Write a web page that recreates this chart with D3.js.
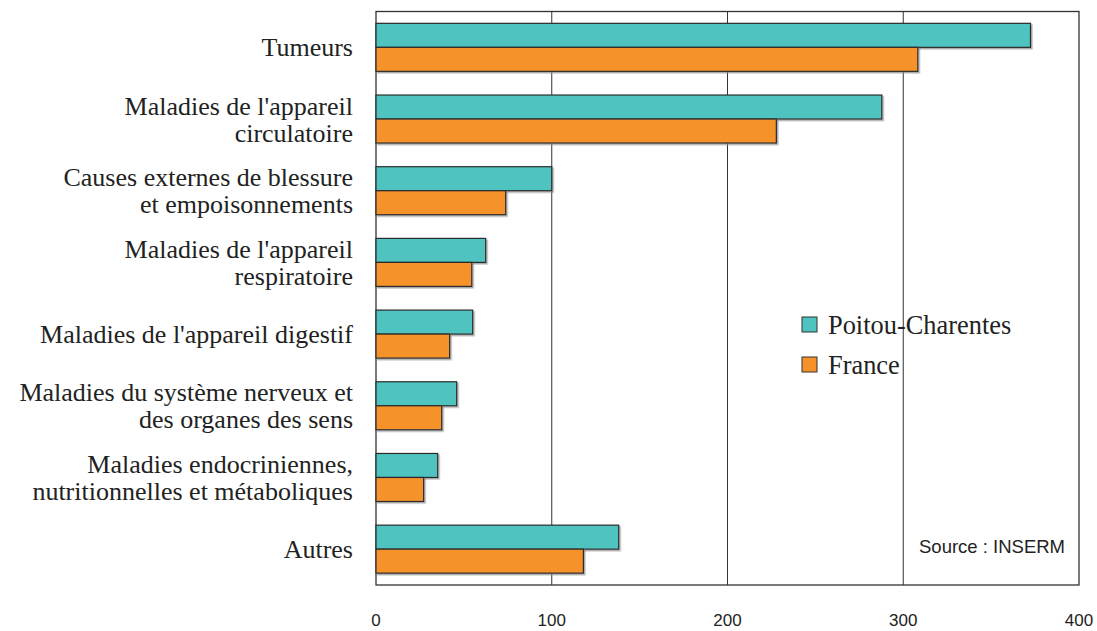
<!DOCTYPE html>
<html><head><meta charset="utf-8">
<script src="https://cdn.jsdelivr.net/npm/d3@7"></script>
<style>body{margin:0;background:#fff}</style>
</head><body>
<svg id="c" width="1097" height="631"></svg>
<script>
const categories = [
  ["Tumeurs"],
  ["Maladies de l'appareil", "circulatoire"],
  ["Causes externes de blessure", "et empoisonnements"],
  ["Maladies de l'appareil", "respiratoire"],
  ["Maladies de l'appareil digestif"],
  ["Maladies du système nerveux et", "des organes des sens"],
  ["Maladies endocriniennes,", "nutritionnelles et métaboliques"],
  ["Autres"]
];
const seriesNames = ["Poitou-Charentes", "France"];
const poitouValues = [372.4, 287.8, 100, 62.4, 55, 45.9, 35.1, 138.1];
const franceValues = [308.3, 227.8, 73.8, 54.5, 41.9, 37.4, 27.1, 118];
const xTicks = [0, 100, 200, 300, 400];
const colors = ["#4fc3bf", "#f5922b"];
const sourceText = "Source : INSERM";

const svg = d3.select("#c");
const m = {l: 376, r: 1079, t: 11.5, b: 585};
const x = d3.scaleLinear().domain([0, 400]).range([m.l, m.r]);
const y = d3.scaleBand().domain(d3.range(categories.length)).range([m.t, m.b])
  .paddingInner(0.33).paddingOuter(0.165);
const ySub = d3.scaleBand().domain([0, 1]).range([0, y.bandwidth()]);

const defs = svg.append("defs");
const f = defs.append("filter").attr("id", "sh").attr("x", "-5%").attr("y", "-20%").attr("width", "110%").attr("height", "140%");
f.append("feDropShadow").attr("dx", 1.5).attr("dy", 1.5).attr("stdDeviation", 0.6).attr("flood-color", "#888").attr("flood-opacity", 0.7);

// grid lines
svg.append("g").selectAll("line").data(xTicks.slice(1, -1)).join("line")
  .attr("x1", d => x(d)).attr("x2", d => x(d)).attr("y1", m.t).attr("y2", m.b)
  .attr("stroke", "#333").attr("stroke-width", 1);

// frame
svg.append("rect").attr("x", m.l).attr("y", m.t).attr("width", m.r - m.l).attr("height", m.b - m.t)
  .attr("fill", "none").attr("stroke", "#333").attr("stroke-width", 1.3);

// bars
const data = categories.map((c, i) => [poitouValues[i], franceValues[i]]);
const g = svg.append("g").selectAll("g").data(data).join("g")
  .attr("transform", (d, i) => `translate(0,${y(i)})`);
g.selectAll("rect").data(d => d).join("rect")
  .attr("x", x(0)).attr("y", (d, j) => ySub(j))
  .attr("width", d => x(d) - x(0)).attr("height", ySub.bandwidth())
  .attr("fill", (d, j) => colors[j]).attr("stroke", "#2b2b2b").attr("stroke-width", 1.2)
  .attr("filter", "url(#sh)");

// category labels
const lab = svg.append("g").selectAll("text").data(categories).join("text")
  .attr("text-anchor", "end").attr("font-family", "'Liberation Serif', 'Times New Roman', serif")
  .attr("font-size", 26).attr("fill", "#222")
  .attr("transform", (d, i) => `translate(353,${y(i) + y.bandwidth() / 2})`);
lab.each(function(d) {
  const t = d3.select(this);
  const n = d.length, lh = 27;
  d.forEach((line, k) => {
    t.append("tspan").attr("x", 0).attr("y", (k - (n - 1) / 2) * lh).attr("dy", "0.35em").text(line);
  });
});

// x axis labels
svg.append("g").selectAll("text").data(xTicks).join("text")
  .attr("x", d => x(d)).attr("y", 626).attr("text-anchor", "middle")
  .attr("font-family", "'Liberation Sans Narrow', 'Arial Narrow', 'Liberation Sans', sans-serif")
  .attr("font-size", 17).attr("fill", "#222").text(d => d);

// legend
const lg = svg.append("g").attr("transform", "translate(802,317)");
seriesNames.forEach((s, i) => {
  lg.append("rect").attr("x", 0).attr("y", i * 40).attr("width", 15).attr("height", 15)
    .attr("fill", colors[i]).attr("stroke", "#333").attr("stroke-width", 1);
  lg.append("text").attr("x", 26).attr("y", i * 40 + 17).attr("font-family", "'Liberation Serif', 'Times New Roman', serif")
    .attr("font-size", 26.4).attr("fill", "#222").text(s);
});

// source
svg.append("text").attr("x", 919).attr("y", 553).attr("font-family", "'Liberation Sans', Arial, sans-serif")
  .attr("font-size", 18.5).attr("fill", "#222").text(sourceText);
</script>
</body></html>
